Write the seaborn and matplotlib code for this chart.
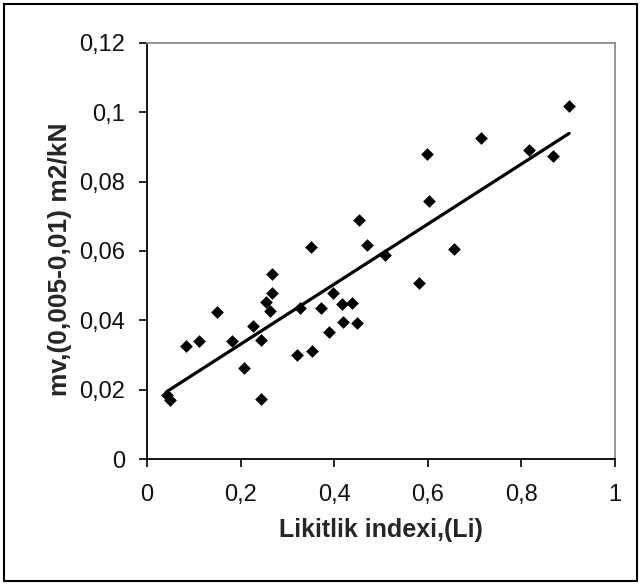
import matplotlib
matplotlib.use("Agg")
import matplotlib.pyplot as plt
from matplotlib.patches import Rectangle
import seaborn as sns
import pandas as pd

# Data
li = [0.042, 0.049, 0.083, 0.111, 0.149, 0.181, 0.207, 0.227, 0.244, 0.244,
      0.254, 0.263, 0.268, 0.268, 0.321, 0.327, 0.350, 0.352, 0.372, 0.389,
      0.397, 0.416, 0.419, 0.437, 0.448, 0.453, 0.471, 0.509, 0.582, 0.598,
      0.603, 0.656, 0.714, 0.816, 0.868, 0.902]
mv = [0.0185, 0.0170, 0.0327, 0.0340, 0.0423, 0.0339, 0.0262, 0.0384, 0.0343, 0.0172,
      0.0452, 0.0427, 0.0478, 0.0534, 0.0300, 0.0435, 0.0611, 0.0312, 0.0435, 0.0367,
      0.0480, 0.0446, 0.0395, 0.0451, 0.0393, 0.0690, 0.0618, 0.0589, 0.0507, 0.0879,
      0.0745, 0.0606, 0.0925, 0.0890, 0.0875, 0.1017]

x_ticks = [0, 0.2, 0.4, 0.6, 0.8, 1.0]
x_ticklabels = ["0", "0,2", "0,4", "0,6", "0,8", "1"]
y_ticks = [0, 0.02, 0.04, 0.06, 0.08, 0.10, 0.12]
y_ticklabels = ["0", "0,02", "0,04", "0,06", "0,08", "0,1", "0,12"]
x_label = "Likitlik indexi,(Li)"
y_label = "mv,(0,005-0,01) m2/kN"

df = pd.DataFrame({"Li": li, "mv": mv})

sns.set_style("white")
plt.rcParams["font.family"] = ["Liberation Sans", "DejaVu Sans"]

W, H = 642, 588
fig = plt.figure(figsize=(W / 100, H / 100), dpi=100)
fig.patch.set_facecolor("white")
ax = fig.add_axes([147 / W, 1 - 459 / H, 468 / W, 416 / H])

sns.regplot(data=df, x="Li", y="mv", ax=ax, ci=None, truncate=True,
            marker="D",
            scatter_kws={"s": 42, "color": "black", "alpha": 1.0,
                         "linewidths": 0, "zorder": 3},
            line_kws={"color": "black", "linewidth": 2.3, "zorder": 2})

ax.set_xlim(0, 1)
ax.set_ylim(0, 0.12)
ax.set_xticks(x_ticks)
ax.set_xticklabels(x_ticklabels)
ax.set_yticks(y_ticks)
ax.set_yticklabels(y_ticklabels)
ax.tick_params(axis="both", which="major", direction="out", length=6, width=1.2,
               color="black", labelsize=17, labelcolor="#111111",
               bottom=True, left=True)
ax.tick_params(axis="x", pad=12)
ax.tick_params(axis="y", pad=10)

for side in ["left", "bottom"]:
    ax.spines[side].set_color("black")
    ax.spines[side].set_linewidth(1.3)
for side in ["top", "right"]:
    ax.spines[side].set_color("#8c8c8c")
    ax.spines[side].set_linewidth(1.3)

ax.set_xlabel(x_label, fontsize=18, fontweight="bold", va="center")
ax.set_ylabel(y_label, fontsize=19, fontweight="bold", va="center")
ax.xaxis.set_label_coords(0.5, (459 - 530) / 416)
ax.yaxis.set_label_coords((60 - 147) / 468, (459 - 259) / 416)
ax.grid(False)

fig.patches.append(Rectangle((4 / W, 1 - 581 / H), 633 / W, 577 / H,
                             transform=fig.transFigure, fill=False,
                             edgecolor="black", linewidth=1.5))

fig.savefig("out.png", dpi=100)
